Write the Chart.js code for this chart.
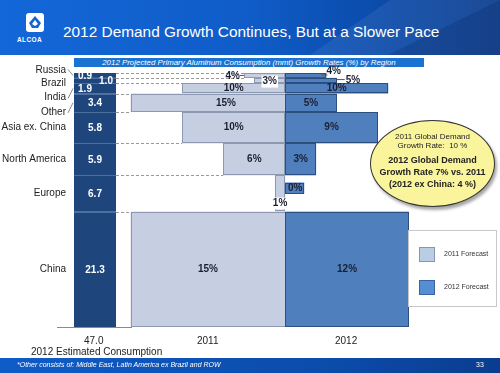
<!DOCTYPE html>
<html>
<head>
<meta charset="UTF-8" />
<title>2012 Demand Growth Continues, But at a Slower Pace</title>
<script src="https://cdn.jsdelivr.net/npm/chart.js"></script>
<style>
  body { margin: 0; width: 500px; height: 373px; overflow: hidden; background: #fff;
         font-family: "Liberation Sans", Arial, sans-serif; position: relative; }
  #header { position: absolute; left: 0; top: 0; width: 500px; height: 55px; overflow: hidden;
            background: linear-gradient(90deg, #1467d8 0%, #0f5cc8 50%, #0b4aa8 78%, #0a3d8e 100%); }
  #header .tri1 { position: absolute; left: 300px; top: 0; width: 200px; height: 55px;
                  background: rgba(255,255,255,0.07); clip-path: polygon(45% 0, 100% 0, 100% 100%, 5% 100%); }
  #header .tri2 { position: absolute; left: 340px; top: 0; width: 160px; height: 55px;
                  background: rgba(0,20,80,0.18); clip-path: polygon(100% 0, 100% 100%, 30% 100%); }
  #logo { position: absolute; left: 26px; top: 13px; width: 18px; height: 19px; background: #fff; border-radius: 3px; }
  #logo svg { position: absolute; left: 2px; top: 2px; }
  #logoText { position: absolute; left: 17px; top: 36px; color: #fff; font-size: 6.5px; font-weight: bold; letter-spacing: 0.4px; }
  #title { position: absolute; left: 63px; top: 23px; color: #fff; font-size: 15.4px; white-space: nowrap; }
  #subtitle { position: absolute; left: 74px; top: 58px; width: 350px; height: 9px; background: #1a73d2;
              color: #fff; font-size: 7.9px; font-style: italic; line-height: 9px; text-align: center; white-space: nowrap; }
  #wrap { position: absolute; left: 0; top: 0; width: 500px; height: 373px; }
  .lbl { position: absolute; font-size: 10px; color: #222; white-space: nowrap; }
  #ellipse { position: absolute; left: 370px; top: 120px; width: 125px; height: 87px; border-radius: 50%;
             background: #faf59c; border: 1.5px solid #333; box-shadow: 2px 3px 3px rgba(0,0,0,0.35);
             text-align: center; color: #222; box-sizing: border-box; }
  #ellipse .n { font-size: 8px; line-height: 9px; }
  #ellipse .b { font-size: 9px; font-weight: bold; line-height: 12px; }
  #legend { position: absolute; left: 408px; top: 230px; width: 89px; height: 77px; border: 1px solid #c8c8c8;
            background: #fff; box-sizing: border-box; }
  #legend .sw { position: absolute; left: 10px; width: 16px; height: 15px; box-sizing: border-box; }
  #legend .tx { position: absolute; left: 35px; font-size: 7px; color: #333; white-space: nowrap; }
  #footer { position: absolute; left: 0; top: 358px; width: 500px; height: 15px;
            background: linear-gradient(90deg, #0f5cc8 0%, #0b4aa8 70%, #0a3d8e 100%); color: #fff; }
  #footer .note { position: absolute; left: 17px; top: 3px; font-size: 7px; font-style: italic; white-space: nowrap; }
  #footer .page { position: absolute; left: 476px; top: 3px; font-size: 7px; }
</style>
</head>
<body>
<div id="header">
  <div class="tri1"></div>
  <div class="tri2"></div>
  <div id="logo">
    <svg width="14" height="15" viewBox="0 0 14 15">
      <path d="M7 1 L13 8 L10 13 L4 13 L1 8 Z" fill="#1466d6"/>
      <path d="M7 5 L10 9 L7 11 L4 9 Z" fill="#fff"/>
    </svg>
  </div>
  <div id="logoText">ALCOA</div>
  <div id="title">2012 Demand Growth Continues, But at a Slower Pace</div>
</div>
<div id="subtitle">2012 Projected Primary Aluminum Consumption (mmt) Growth Rates (%) by Region</div>

<div id="wrap"><canvas id="demandChart" width="500" height="373"></canvas></div>

<div class="lbl" id="totalLbl" style="left:84px; top:335px;"></div>
<div class="lbl" style="left:31px; top:346px;">2012 Estimated Consumption</div>
<div class="lbl" id="year0" style="left:197px; top:335px;"></div>
<div class="lbl" id="year1" style="left:335px; top:335px;"></div>

<div id="ellipse">
  <div class="n" style="margin-top:11px;">2011 Global Demand</div>
  <div class="n">Growth Rate:&nbsp; 10 %</div>
  <div class="b" style="margin-top:4px;">2012 Global Demand</div>
  <div class="b">Growth Rate 7% vs. 2011</div>
  <div class="b">(2012 ex China: 4 %)</div>
</div>

<div id="legend">
  <div class="sw" style="top:16px; background:#b9cde5; border:1px solid #8496b0;"></div>
  <div class="tx" style="top:19px;">2011 Forecast</div>
  <div class="sw" style="top:49px; background:#558ed5; border:1px solid #3a64a0;"></div>
  <div class="tx" style="top:52px;">2012 Forecast</div>
</div>

<div id="footer">
  <div class="note">*Other consists of: Middle East, Latin America ex Brazil and ROW</div>
  <div class="page">33</div>
</div>

<script>
  // data
  const regions = ['Russia', 'Brazil', 'India', 'Other', 'Asia ex. China', 'North America', 'Europe', 'China'];
  const consumption2012 = [0.9, 1.0, 1.9, 3.4, 5.8, 5.9, 6.7, 21.3];   // mmt
  const growth2011 = [4, 3, 10, 15, 10, 6, 1, 15];                     // %
  const growth2012 = [4, 5, 10, 5, 9, 3, 0, 12];                       // %
  const yearLabels = ['2011', '2012'];
  const totalLabel = '47.0';

  // label nudges for the thin bands (pixels)
  const nameShiftY = [-5, 3, 9, 9, 0, 0, 0, 0];
  const nameLeader = [true, false, true, true, false, false, false, false];
  const valueShiftX = [-10, 11, -10, 0, 0, 0, 0, 0];
  const pct2011Shift = [0, 0, 0, 18, 0, 0, 0, 0];

  document.getElementById('totalLbl').textContent = totalLabel;
  document.getElementById('year0').textContent = yearLabels[0];
  document.getElementById('year1').textContent = yearLabels[1];

  const colors = {
    stack: '#1f467c', stackLine: '#4d6f9e',
    light: '#c5cfe1', lightLine: '#8c99b0',
    dark: '#4f7fbd', darkLine: '#2c4f80',
    text: '#1b1f33', dash: '#9a9a9a'
  };

  const bandStarts = [];
  consumption2012.reduce((acc, v, i) => { bandStarts[i] = acc; return acc + v; }, 0);
  const totalConsumption = consumption2012.reduce((a, b) => a + b, 0);

  function box(ctx, x0, y0, x1, y1, fill, stroke) {
    const l = Math.min(x0, x1), r = Math.max(x0, x1);
    ctx.fillStyle = fill;
    ctx.fillRect(l, y0, r - l, y1 - y0);
    ctx.strokeStyle = stroke;
    ctx.lineWidth = 1;
    ctx.strokeRect(Math.round(l) + 0.5, Math.round(y0) + 0.5, Math.round(r - l) - 1, Math.round(y1 - y0) - 1);
  }

  function text(ctx, str, x, y, align, bg) {
    ctx.textAlign = align || 'center';
    ctx.textBaseline = 'middle';
    if (bg) {
      const w = ctx.measureText(str).width;
      const l = align === 'left' ? x : align === 'right' ? x - w : x - w / 2;
      ctx.fillStyle = bg;
      ctx.fillRect(l - 1, y - 6, w + 2, 12);
    }
    ctx.fillStyle = colors.text;
    ctx.fillText(str, x, y);
  }

  function line(ctx, x0, y0, x1, y1, color, dash) {
    ctx.save();
    ctx.strokeStyle = color;
    ctx.lineWidth = 1;
    ctx.setLineDash(dash || []);
    ctx.beginPath();
    ctx.moveTo(x0, y0);
    ctx.lineTo(x1, y1);
    ctx.stroke();
    ctx.restore();
  }

  const bandsPlugin = {
    id: 'bands',
    afterDraw(chart) {
      const { ctx, chartArea: area, scales: { x, y } } = chart;
      const stackL = area.left, stackR = area.left + 42;
      const zero = x.getPixelForValue(0);
      const top = i => y.getPixelForValue(bandStarts[i]);
      const bottom = i => y.getPixelForValue(bandStarts[i] + consumption2012[i]);
      const left2011 = i => x.getPixelForValue(-growth2011[i]);
      const right2012 = i => x.getPixelForValue(growth2012[i]);

      ctx.save();

      // dashed guides from the stacked column to the bars
      regions.forEach((r, i) => {
        const yy = Math.round(top(i)) + 0.5;
        const end = i === 0 ? right2012(0) : Math.min(left2011(i), left2011(i - 1));
        line(ctx, stackR, yy, end, yy, colors.dash, [3, 2]);
      });

      // 2011 bars grow left of the divider, 2012 bars grow right
      regions.forEach((r, i) => {
        box(ctx, left2011(i), top(i), zero, bottom(i), colors.light, colors.lightLine);
      });
      regions.forEach((r, i) => {
        if (growth2012[i] > 0) box(ctx, zero, top(i), right2012(i), bottom(i), colors.dark, colors.darkLine);
      });

      // stacked consumption column
      regions.forEach((r, i) => {
        ctx.fillStyle = colors.stack;
        ctx.fillRect(stackL, top(i), stackR - stackL, bottom(i) - top(i));
        if (i > 0) line(ctx, stackL, Math.round(top(i)) + 0.5, stackR, Math.round(top(i)) + 0.5, colors.stackLine);
      });
      line(ctx, stackL - 17, Math.round(area.bottom) + 0.5, stackL + 58, Math.round(area.bottom) + 0.5, '#8a8a8a');

      ctx.font = 'bold 10px "Liberation Sans", Arial, sans-serif';
      regions.forEach((r, i) => {
        const cy = (top(i) + bottom(i)) / 2;
        ctx.fillStyle = '#fff';
        ctx.textAlign = 'center';
        ctx.textBaseline = 'middle';
        ctx.fillText(consumption2012[i].toFixed(1), (stackL + stackR) / 2 + valueShiftX[i], cy + 0.5);
      });

      // region names
      ctx.font = '10px "Liberation Sans", Arial, sans-serif';
      regions.forEach((r, i) => {
        const cy = (top(i) + bottom(i)) / 2;
        const ny = cy + nameShiftY[i];
        ctx.fillStyle = '#222';
        ctx.textAlign = 'right';
        ctx.textBaseline = 'middle';
        ctx.fillText(r, stackL - 8, ny);
        if (nameLeader[i]) line(ctx, stackL - 6, ny + (nameShiftY[i] < 0 ? -1 : 1), stackL - 1, cy, '#888');
      });

      // percentage labels
      ctx.font = 'bold 10px "Liberation Sans", Arial, sans-serif';
      regions.forEach((r, i) => {
        const cy = (top(i) + bottom(i)) / 2;
        const l = left2011(i);
        const s11 = growth2011[i] + '%';
        const s12 = growth2012[i] + '%';
        if (i === 0) {
          text(ctx, s11, l - 4, cy + 1, 'right');
          line(ctx, l - 4, cy, l, cy, '#555');
          text(ctx, s12, right2012(i), cy - 4, 'left');
          line(ctx, right2012(i) - 5, cy - 0.5, right2012(i) + 1, cy - 0.5, '#555');
        } else if (i === 1) {
          text(ctx, s11, (l + zero) / 2, cy + 1, 'center', '#fff');
          text(ctx, s12, right2012(i) + 9, cy, 'left');
          line(ctx, right2012(i), cy - 1, right2012(i) + 8, cy - 1, '#555');
        } else if (growth2012[i] === 0) {
          text(ctx, s11, (l + zero) / 2, cy + 10, 'center', '#fff');
          box(ctx, zero, cy - 11, zero + 19, cy, colors.dark, colors.darkLine);
          text(ctx, s12, zero + 10, cy - 5, 'center');
        } else {
          text(ctx, s11, (l + zero) / 2 + pct2011Shift[i], cy, 'center');
          text(ctx, s12, (zero + right2012(i)) / 2, cy, 'center');
        }
      });

      ctx.restore();
    }
  };

  new Chart(document.getElementById('demandChart'), {
    type: 'scatter',
    data: { datasets: [{ data: [] }] },
    options: {
      responsive: false,
      animation: false,
      events: [],
      layout: { padding: { left: 74, right: 86, top: 73, bottom: 46 } },
      plugins: { legend: { display: false }, tooltip: { enabled: false } },
      scales: {
        x: { type: 'linear', display: false, min: -20.5, max: 12.5 },
        y: { type: 'linear', display: false, min: 0, max: totalConsumption, reverse: true }
      }
    },
    plugins: [bandsPlugin]
  });
</script>
</body>
</html>
